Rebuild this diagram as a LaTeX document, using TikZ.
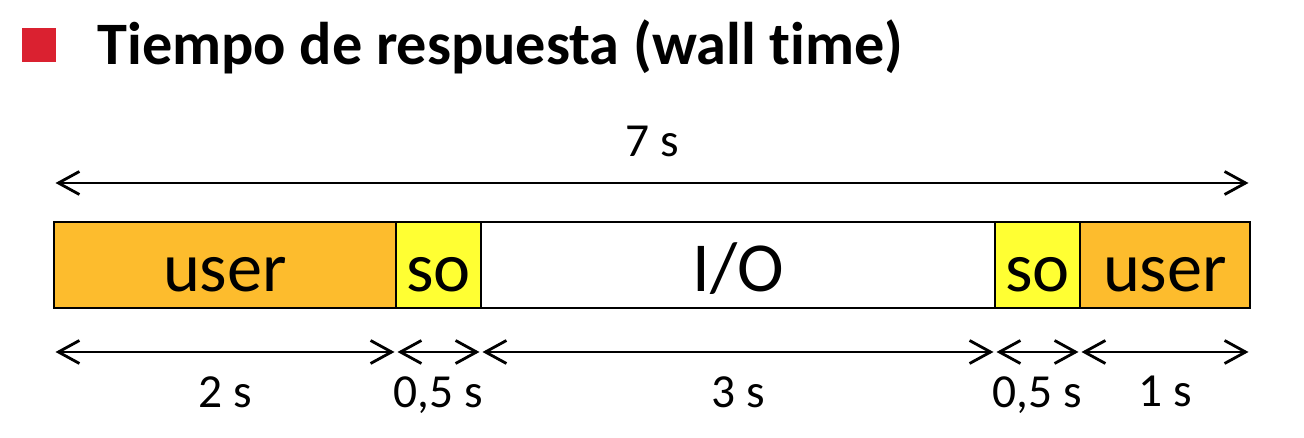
\documentclass[tikz,border=0pt]{standalone}
\usepackage{fontspec}
\setmainfont{Carlito}[Ligatures=NoCommon]
\usepackage{tikz}
\usetikzlibrary{positioning,arrows.meta}
\usepackage{xcolor}
\definecolor{BulletRed}{RGB}{218,33,48}
\definecolor{UserOrange}{RGB}{253,188,45}
\definecolor{SysYellow}{RGB}{255,255,51}

\begin{document}
\begin{tikzpicture}[
  node distance=0pt,
  segbox/.style={draw=black, line width=1.6pt, inner sep=0pt, outer sep=0pt, minimum height=1.72cm, text height=1.08cm, text depth=0cm, font=\fontsize{40}{40}\selectfont},
  dimarrow/.style={{Straight Barb[length=0.42cm,width=0.46cm,line width=1.6pt]}-{Straight Barb[length=0.42cm,width=0.46cm,line width=1.6pt]}, line width=1.6pt, shorten <=0.03cm, shorten >=0.03cm},
  dimlabel/.style={font=\fontsize{27}{27}\selectfont, inner sep=0pt}
]
\useasboundingbox (0,0) rectangle (26.08,-8.76);

% title
\fill[BulletRed] (0.44,-0.56) rectangle (1.12,-1.24);
\node[anchor=base west, inner sep=0pt, font=\fontsize{34.3}{34.3}\selectfont\bfseries] (title) at (1.94,-1.30) {Tiempo de respuesta (wall time)};

% bar
\node[segbox, fill=UserOrange, minimum width=6.84cm, anchor=north west] (u1) at (1.08,-4.44) {user};
\node[segbox, fill=SysYellow, minimum width=1.70cm, right=of u1] (s1) {so};
\node[segbox, fill=white, minimum width=10.28cm, right=of s1] (io) {I/O};
\node[segbox, fill=SysYellow, minimum width=1.70cm, right=of io] (s2) {so};
\node[segbox, fill=UserOrange, minimum width=3.40cm, right=of s2] (u2) {user};

% total
\draw[dimarrow] ([yshift=0.78cm]u1.north west) -- ([yshift=0.78cm]u2.north east)
  node[dimlabel, midway, above=0.5cm] (total) {7 s};

% parts
\foreach \seg/\txt in {u1/2 s, s1/{0,5 s}, io/3 s, s2/{0,5 s}, u2/1 s} {
  \draw[dimarrow] ([yshift=-0.88cm]\seg.south west) -- ([yshift=-0.88cm]\seg.south east)
    node[dimlabel, midway, below=0.46cm] {\txt};
}
\end{tikzpicture}
\end{document}
